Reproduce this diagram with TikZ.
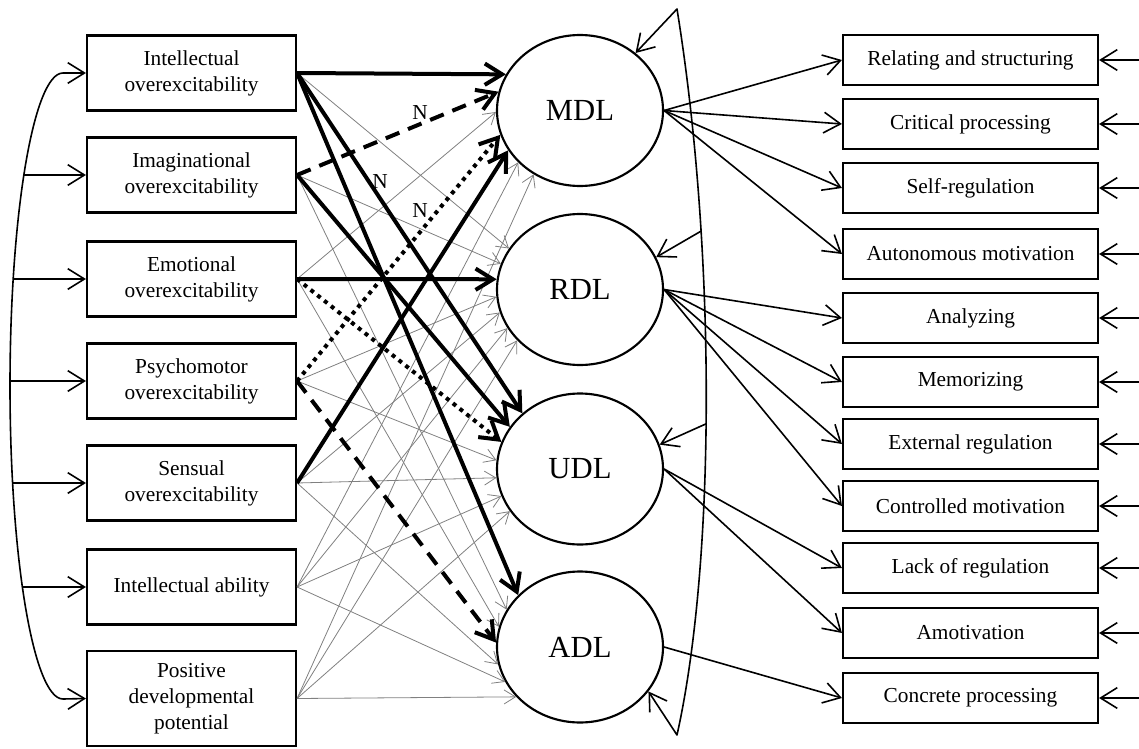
\documentclass[tikz,border=0pt]{standalone}
\usepackage{fontspec}
\setmainfont{Liberation Serif}
\usepackage{tikz}
\usetikzlibrary{arrows.meta,shapes.geometric}

\tikzset{
  factorbox/.style={draw, line width=1.6pt, minimum width=156.75pt, minimum height=56.25pt, inner sep=2pt, align=center, font=\fontsize{16}{19.5}\selectfont},
  latent/.style={ellipse, draw, line width=1.6pt, minimum width=124.5pt, minimum height=113.25pt, inner sep=0pt, font=\fontsize{23}{27}\selectfont},
  indicator/.style={draw, line width=1.6pt, minimum width=191.25pt, minimum height=37.5pt, inner sep=2pt, font=\fontsize{16}{19.5}\selectfont},
  pathlabel/.style={inner sep=0.75pt, font=\fontsize{16}{18}\selectfont},
  link/.style={line width=1.2pt, -{Straight Barb[length=12.5pt,width=15.5pt]}},
  weak/.style={draw=gray, line width=0.6pt, -{Straight Barb[length=8.5pt,width=10.5pt]}},
  strong/.style={line width=3pt, -{Straight Barb[length=13pt,width=16pt]}},
  strongdash/.style={strong, dash pattern=on 11pt off 7pt},
  strongdot/.style={strong, dash pattern=on 3pt off 3.5pt},
}

\begin{document}
\begin{tikzpicture}[x=0.75pt,y=0.75pt,yscale=-1,xscale=1]
\useasboundingbox (0,0) rectangle (1139,749);

%Predictor boxes
\node[factorbox] (L1) at (191.5,73) {Intellectual\\overexcitability};
\node[factorbox] (L2) at (191.5,175) {Imaginational\\overexcitability};
\node[factorbox] (L3) at (191.5,279) {Emotional\\overexcitability};
\node[factorbox] (L4) at (191.5,381) {Psychomotor\\overexcitability};
\node[factorbox] (L5) at (191.5,483) {Sensual\\overexcitability};
\node[factorbox] (L6) at (191.5,587) {Intellectual ability};
\node[factorbox, minimum height=71.25pt] (L7) at (191.5,698.5) {Positive\\developmental\\potential};

%Latent ellipses
\node[latent] (MDL) at (580,110.5) {MDL};
\node[latent] (RDL) at (580,289.5) {RDL};
\node[latent] (UDL) at (580,469) {UDL};
\node[latent] (ADL) at (580,647) {ADL};

%Indicator boxes
\node[indicator] (R1) at (970.5,60) {Relating and structuring};
\node[indicator] (R2) at (970.5,124) {Critical processing};
\node[indicator] (R3) at (970.5,188) {Self-regulation};
\node[indicator] (R4) at (970.5,254) {Autonomous motivation};
\node[indicator] (R5) at (970.5,318) {Analyzing};
\node[indicator] (R6) at (970.5,382) {Memorizing};
\node[indicator] (R7) at (970.5,444) {External regulation};
\node[indicator] (R8) at (970.5,506) {Controlled motivation};
\node[indicator] (R9) at (970.5,568) {Lack of regulation};
\node[indicator] (R10) at (970.5,633) {Amotivation};
\node[indicator] (R11) at (970.5,698) {Concrete processing};

%Free ends
\coordinate (c2) at (23.8,175);
\coordinate (c3) at (13.2,279);
\coordinate (c4) at (10,381);
\coordinate (c5) at (12.6,483);
\coordinate (c6) at (22.4,587);
\coordinate (top) at (677,9);
\coordinate (bottom) at (677,735);
\coordinate (e1) at (1139,60);
\coordinate (e2) at (1139,124);
\coordinate (e3) at (1139,188);
\coordinate (e4) at (1139,254);
\coordinate (e5) at (1139,318);
\coordinate (e6) at (1139,382);
\coordinate (e7) at (1139,444);
\coordinate (e8) at (1139,506);
\coordinate (e9) at (1139,568);
\coordinate (e10) at (1139,633);
\coordinate (e11) at (1139,698);

%Covariance curve on the left
\draw [link, {Straight Barb[length=12.5pt,width=15.5pt]}-{Straight Barb[length=12.5pt,width=15.5pt]}] (L1.west) -- (63,73) arc[start angle=270, end angle=90, x radius=53, y radius=313] -- (L7.west);
\draw [link] (c2) -- (L2.west);
\draw [link] (c3) -- (L3.west);
\draw [link] (c4) -- (L4.west);
\draw [link] (c5) -- (L5.west);
\draw [link] (c6) -- (L6.west);

%Non significant paths
\draw [weak] (L1.east) -- (RDL.150);
\draw [weak] (L2.east) -- (RDL.162);
\draw [weak] (L2.east) -- (ADL.153);
\draw [weak] (L3.east) -- (MDL.181);
\draw [weak] (L3.east) -- (ADL.166);
\draw [weak] (L4.east) -- (RDL.185);
\draw [weak] (L4.east) -- (UDL.174);
\draw [weak] (L5.east) -- (RDL.196);
\draw [weak] (L5.east) -- (UDL.186);
\draw [weak] (L5.east) -- (ADL.192);
\draw [weak] (L6.east) -- (MDL.220);
\draw [weak] (L6.east) -- (RDL.208);
\draw [weak] (L6.east) -- (UDL.199);
\draw [weak] (L6.east) -- (ADL.205);
\draw [weak] (L7.east) -- (MDL.234);
\draw [weak] (L7.east) -- (RDL.219);
\draw [weak] (L7.east) -- (UDL.211);
\draw [weak] (L7.east) -- (ADL.218);

%Significant paths
\draw [strong] (L1.east) -- (MDL.154);
\draw [strong] (L1.east) -- (UDL.136);
\draw [strong] (L1.east) -- (ADL.140);
\draw [strongdash] (L2.east) -- (MDL.167);
\draw [strong] (L2.east) -- (UDL.149);
\draw [strong] (L3.east) -- (RDL.173);
\draw [strongdot] (L3.east) -- (UDL.161);
\draw [strongdot] (L4.east) -- (MDL.197);
\draw [strongdash] (L4.east) -- (ADL.177);
\draw [strong] (L5.east) -- (MDL.209);

% Text Node
\node[pathlabel] (n1) at (420,113) {N};
\node[pathlabel] (n2) at (380,182) {N};
\node[pathlabel] (n3) at (420,211) {N};

%Loadings
\draw [link] (MDL.east) -- (R1.west);
\draw [link] (MDL.east) -- (R2.west);
\draw [link] (MDL.east) -- (R3.west);
\draw [link] (MDL.east) -- (R4.west);
\draw [link] (RDL.east) -- (R5.west);
\draw [link] (RDL.east) -- (R6.west);
\draw [link] (RDL.east) -- (R7.west);
\draw [link] (RDL.east) -- (R8.west);
\draw [link] (UDL.east) -- (R9.west);
\draw [link] (UDL.east) -- (R10.west);
\draw [link] (ADL.east) -- (R11.west);

%Residuals
\draw [link] (e1) -- (R1.east);
\draw [link] (e2) -- (R2.east);
\draw [link] (e3) -- (R3.east);
\draw [link] (e4) -- (R4.east);
\draw [link] (e5) -- (R5.east);
\draw [link] (e6) -- (R6.east);
\draw [link] (e7) -- (R7.east);
\draw [link] (e8) -- (R8.east);
\draw [link] (e9) -- (R9.east);
\draw [link] (e10) -- (R10.east);
\draw [link] (e11) -- (R11.east);

%Covariance curve on the right
\draw [link, line join=round, {Straight Barb[length=12.5pt,width=15.5pt]}-{Straight Barb[length=12.5pt,width=15.5pt]}] (MDL.46) -- (top) .. controls (716,250) and (716,560) .. coordinate[pos=0.29] (j2) coordinate[pos=0.535] (j3) (bottom) -- (ADL.-33);
\draw [link] (j2) -- (RDL.23);
\draw [link] (j3) -- (UDL.17);

\end{tikzpicture}
\end{document}
